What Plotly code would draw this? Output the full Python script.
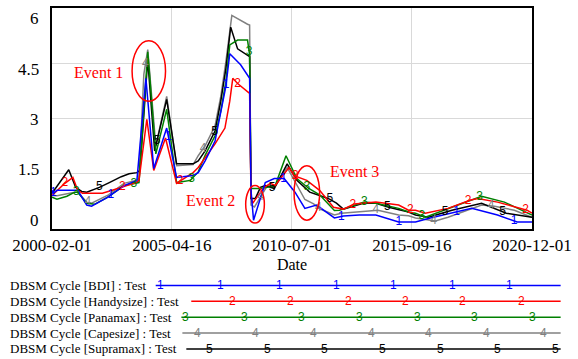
import numpy as np
import pandas as pd
import plotly.graph_objects as go

# ---------------- data (decimal years, index values) ----------------
bdi_years = [2000.085, 2000.13, 2000.30, 2001.20, 2001.59, 2001.80, 2002.49, 2003.21, 2003.77, 2004.16,
             2004.50, 2005.06, 2005.49, 2006.21, 2006.43, 2006.73, 2007.16, 2007.41, 2007.63, 2007.80,
             2008.27, 2008.66, 2008.72, 2008.83, 2009.34, 2009.73, 2010.16, 2010.63, 2011.06, 2011.57,
             2012.34, 2012.73, 2013.42, 2014.14, 2015.13, 2015.86, 2016.50, 2018.30, 2019.42, 2020.27,
             2020.915]
bdi_values = [1.05, 0.97, 1.05, 1.05, 0.65, 0.62, 0.86, 1.18, 1.32, 4.09,
              1.64, 2.74, 1.40, 1.45, 1.53, 1.85, 2.39, 3.20, 3.87, 4.76,
              4.46, 4.09, 1.05, 0.24, 1.26, 1.37, 1.37, 1.00, 0.56, 0.65,
              0.30, 0.35, 0.38, 0.38, 0.19, 0.19, 0.30, 0.56, 0.38, 0.19,
              0.19]

handy_years = [2000.085, 2000.64, 2000.99, 2001.20, 2001.41, 2002.27, 2002.70, 2003.13, 2003.73, 2003.86,
               2004.20, 2004.50, 2005.01, 2005.49, 2006.21, 2006.43, 2007.16, 2007.59, 2007.80, 2007.93,
               2008.14, 2008.66, 2008.72, 2008.79, 2009.30, 2009.56, 2009.77, 2010.37, 2010.59, 2011.14,
               2011.70, 2012.30, 2012.73, 2013.20, 2014.14, 2015.13, 2015.56, 2015.86, 2016.29, 2017.27,
               2018.22, 2018.56, 2019.42, 2020.70, 2020.915]
handy_values = [0.91, 1.24, 1.40, 1.05, 0.97, 0.97, 1.05, 1.13, 1.26, 1.32,
                2.98, 1.59, 2.47, 1.24, 1.53, 1.67, 2.31, 2.74, 3.47, 4.09,
                3.95, 3.68, 0.90, 0.70, 1.13, 1.24, 1.18, 1.67, 1.45, 1.32,
                1.05, 0.59, 0.54, 0.68, 0.73, 0.65, 0.51, 0.51, 0.43, 0.56,
                0.78, 0.83, 0.73, 0.51, 0.43]

pana_years = [2000.085, 2000.30, 2000.73, 2001.07, 2001.20, 2001.59, 2001.93, 2002.49, 2003.21, 2003.73,
              2003.86, 2004.24, 2004.59, 2005.06, 2005.49, 2006.09, 2006.43, 2006.73, 2007.16, 2007.41,
              2007.63, 2007.80, 2008.14, 2008.57, 2008.66, 2008.72, 2009.09, 2009.43, 2009.77, 2010.24,
              2010.71, 2011.23, 2011.70, 2012.34, 2012.56, 2013.63, 2014.14, 2015.13, 2015.56, 2015.86,
              2016.29, 2017.44, 2018.73, 2019.72, 2020.915]
pana_values = [0.86, 0.81, 0.89, 1.00, 1.00, 0.70, 0.67, 0.86, 1.18, 1.24,
               1.26, 4.81, 2.04, 3.25, 1.26, 1.32, 1.55, 2.00, 2.53, 3.20,
               4.00, 5.00, 5.13, 5.13, 4.73, 1.10, 1.10, 1.13, 1.18, 1.99,
               1.37, 1.10, 0.93, 0.50, 0.51, 0.73, 0.70, 0.56, 0.46, 0.43,
               0.32, 0.59, 0.89, 0.73, 0.38]

cape_years = [2000.085, 2000.30, 2001.07, 2001.20, 2001.59, 2001.80, 2002.49, 2003.21, 2003.73, 2003.86,
              2004.07, 2004.24, 2004.59, 2005.06, 2005.49, 2006.21, 2006.43, 2006.73, 2007.16, 2007.41,
              2007.63, 2007.89, 2008.57, 2008.66, 2008.72, 2008.87, 2009.43, 2009.73, 2010.29, 2010.71,
              2011.06, 2011.44, 2011.70, 2012.34, 2012.64, 2014.23, 2015.13, 2015.56, 2015.86, 2016.72,
              2017.27, 2018.73, 2019.29, 2020.15, 2020.915]
cape_values = [0.91, 0.90, 1.00, 1.00, 0.73, 0.70, 0.91, 1.24, 1.32, 1.37,
               4.20, 4.87, 2.26, 3.60, 1.72, 1.75, 1.99, 2.26, 2.80, 3.60,
               4.54, 5.80, 5.56, 5.54, 0.65, 0.60, 1.18, 1.13, 1.67, 1.18,
               0.80, 0.68, 0.55, 0.38, 0.43, 0.51, 0.38, 0.36, 0.30, 0.22,
               0.32, 0.65, 0.62, 0.51, 0.32]

supra_years = [2000.085, 2000.81, 2001.11, 2001.37, 2001.59, 2001.84, 2002.14, 2002.57, 2003.09, 2003.43,
               2003.77, 2003.90, 2004.24, 2004.54, 2005.06, 2005.49, 2006.21, 2006.43, 2006.73, 2007.16,
               2007.41, 2007.63, 2007.84, 2008.14, 2008.66, 2008.72, 2008.91, 2009.13, 2009.34, 2009.73,
               2010.29, 2010.71, 2011.27, 2011.70, 2012.13, 2012.43, 2012.73, 2013.59, 2014.14, 2014.70,
               2015.56, 2015.86, 2016.42, 2017.44, 2018.73, 2019.80, 2020.915]
supra_values = [0.97, 1.61, 1.13, 1.02, 1.00, 1.05, 1.13, 1.26, 1.42, 1.50,
                1.53, 1.59, 4.60, 2.12, 3.52, 1.77, 1.77, 1.85, 2.12, 2.66,
                3.47, 4.35, 5.48, 4.89, 4.68, 0.83, 0.83, 1.13, 1.18, 1.10,
                1.77, 1.32, 1.00, 0.91, 0.81, 0.70, 0.54, 0.70, 0.70, 0.59,
                0.46, 0.38, 0.32, 0.51, 0.70, 0.43, 0.32]

series_names = ["BDI", "Handysize", "Panamax", "Capesize", "Supramax"]
series_colors = ["#0000ff", "#ff0000", "#008000", "#808080", "#000000"]

x_tick_labels = ["2000-02-01", "2005-04-16", "2010-07-01", "2015-09-16", "2020-12-01"]
y_tick_values = [0, 1.5, 3, 4.5, 6]
y_tick_labels = ["0", "1.5", "3", "4.5", "6"]

events = ["Event 1", "Event 2", "Event 3"]
event_text_pos = [(2002.12, 4.25), (2006.96, 0.78), (2013.20, 1.56)]
event_ellipses = [(2003.56, 2005.01, 3.47, 5.11), (2008.49, 2009.30, 0.16, 1.18), (2010.59, 2011.70, 0.24, 1.72)]

# ---------------- helpers ----------------
def to_date(y):
    yi = int(np.floor(y))
    start = pd.Timestamp(yi, 1, 1)
    end = pd.Timestamp(yi + 1, 1, 1)
    return start + (end - start) * (y - yi)

all_years = [bdi_years, handy_years, pana_years, cape_years, supra_years]
all_values = [bdi_values, handy_values, pana_values, cape_values, supra_values]

serif = "Liberation Serif, Times New Roman, serif"
sans = "Liberation Sans, Arial, sans-serif"

fig = go.Figure()

draw_order = [3, 4, 2, 1, 0]
for k in draw_order:
    fig.add_trace(go.Scatter(
        x=[to_date(v) for v in all_years[k]], y=all_values[k], mode="lines",
        line=dict(color=series_colors[k], width=1.5), showlegend=False, hoverinfo="skip"))

# numbered markers along each line
marker_first = 2000.14
marker_offset = 0.5
marker_step = 2.5
for k in draw_order:
    mys = []
    t = marker_first + k * marker_offset
    while t <= all_years[k][-1]:
        mys.append(t)
        t += marker_step
    mv = np.interp(mys, all_years[k], all_values[k])
    fig.add_trace(go.Scatter(
        x=[to_date(v) for v in mys], y=mv, mode="text", text=[str(k + 1)] * len(mys),
        textposition="middle center", textfont=dict(family=sans, size=12, color=series_colors[k]),
        showlegend=False, hoverinfo="skip", cliponaxis=False))

# events
shapes = []
annotations = []
for name, (tx, ty), (x0, x1, y0, y1) in zip(events, event_text_pos, event_ellipses):
    shapes.append(dict(type="circle", xref="x", yref="y", x0=to_date(x0), x1=to_date(x1), y0=y0, y1=y1,
                       line=dict(color="#ff0000", width=1.5)))
    annotations.append(dict(x=to_date(tx), y=ty, xref="x", yref="y", text=name, showarrow=False,
                            font=dict(family=serif, size=16, color="#ff0000")))

# plot area in pixels (for layout decorations)
L, R, T, B, W, H = 52, 40, 6, 130, 578, 359
PW, PH = W - L - R, H - T - B
def px(xp):
    return (xp - L) / PW
def py(yp):
    return (H - B - yp) / PH

# y tick labels (Vensim style: evenly placed between top and bottom)
ylab_px = np.linspace(17, 220, len(y_tick_labels))[::-1]
for lab, yp in zip(y_tick_labels, ylab_px):
    annotations.append(dict(x=0, y=py(yp), xref="paper", yref="paper", xanchor="right", yanchor="middle",
                            xshift=-11, text=lab, showarrow=False,
                            font=dict(family=serif, size=17, color="black")))

# custom legend
legend_rows_y = [286, 302, 318, 334, 350]
legend_line_start = [157, 193, 183, 184, 188]
legend_line_end = 567
legend_marks = [[162, 223, 282, 340, 398, 457, 515],
                [235, 293, 352, 410, 468, 527],
                [187, 247, 305, 363, 422, 480, 538],
                [199, 258, 317, 375, 433, 492, 550],
                [211, 270, 328, 387, 445, 503, 562]]
for k in range(5):
    yy = py(legend_rows_y[k])
    annotations.append(dict(x=px(7), y=yy, xref="paper", yref="paper", xanchor="left", yanchor="middle",
                            text=f"DBSM Cycle [{series_names[k]}] : Test", showarrow=False,
                            font=dict(family=serif, size=13, color="black")))
    shapes.append(dict(type="line", xref="paper", yref="paper", x0=px(legend_line_start[k]),
                       x1=px(legend_line_end), y0=yy, y1=yy,
                       line=dict(color=series_colors[k], width=1.5)))
    for m in legend_marks[k]:
        annotations.append(dict(x=px(m), y=yy, xref="paper", yref="paper", xanchor="center",
                                yanchor="middle", text=str(k + 1), showarrow=False,
                                font=dict(family=sans, size=12, color=series_colors[k])))

fig.update_layout(
    width=W, height=H, margin=dict(l=L, r=R, t=T, b=B, pad=0),
    paper_bgcolor="white", plot_bgcolor="white",
    shapes=shapes, annotations=annotations, showlegend=False,
    xaxis=dict(type="date", range=[to_date(2000.0847), to_date(2020.9153)],
               tickvals=x_tick_labels, ticktext=x_tick_labels, ticks="",
               showgrid=True, gridcolor="#d9d9d9", gridwidth=1,
               showline=True, linecolor="black", linewidth=2, mirror=True, zeroline=False,
               tickfont=dict(family=serif, size=17, color="black"),
               title=dict(text="Date", font=dict(family=serif, size=16, color="black"), standoff=4)),
    yaxis=dict(range=[0, 6], tickvals=y_tick_values, showticklabels=False, ticks="",
               showgrid=True, gridcolor="#d9d9d9", gridwidth=1,
               showline=True, linecolor="black", linewidth=2, mirror=True, zeroline=False),
)

fig.write_html("out.html", config={"displayModeBar": False},
               post_script="document.body.style.margin='0';document.body.style.overflow='hidden';")
